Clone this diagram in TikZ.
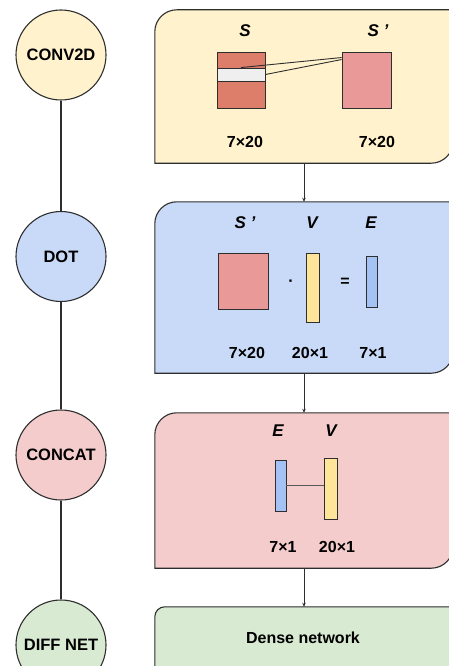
\documentclass[tikz,border=0pt]{standalone}
\usepackage{fontspec}
\setmainfont{Liberation Sans}
\usetikzlibrary{arrows.meta,calc}
\definecolor{linec}{HTML}{2E2E2E}
\definecolor{yelbg}{HTML}{FFF2CC}
\definecolor{bluebg}{HTML}{C9DAF8}
\definecolor{pinkbg}{HTML}{F4CCCC}
\definecolor{greenbg}{HTML}{D9EAD3}
\definecolor{sred}{HTML}{DD7E6B}
\definecolor{spink}{HTML}{EA9999}
\definecolor{bandc}{HTML}{EFEFEF}
\definecolor{vyel}{HTML}{FFE599}
\definecolor{eblue}{HTML}{A4C2F4}
\newcommand\panelpath[3]{%
  \draw[panelline, fill=#2] (#1.south west) -- ([yshift=-#3]#1.north west)
    .. controls ([yshift=-0.448*#3]#1.north west) and ([xshift=0.448*#3]#1.north west) .. ([xshift=#3]#1.north west)
    -- (#1.north east) -- ([yshift=#3]#1.south east)
    .. controls ([yshift=0.448*#3]#1.south east) and ([xshift=-0.448*#3]#1.south east) .. ([xshift=-#3]#1.south east)
    -- cycle;}
\begin{document}
\begin{tikzpicture}[x=1pt,y=-1pt,
  stage/.style={circle, draw=linec, line width=1.1pt, minimum size=90pt, inner sep=0pt,
    font=\fontsize{16.5}{19}\selectfont\bfseries},
  panel/.style={rectangle, inner sep=0pt, minimum width=298pt},
  panelline/.style={draw=linec, line width=1.1pt},
  mat/.style={rectangle, draw=linec, line width=0.9pt, inner sep=0pt},
  lbl/.style={font=\fontsize{17}{20}\selectfont\bfseries\itshape, inner sep=0pt},
  dim/.style={font=\fontsize{16}{19}\selectfont\bfseries, inner sep=0pt},
  link/.style={draw=linec, line width=1.1pt},
  conn/.style={draw=linec, line width=0.8pt, -{Stealth[length=4pt,width=3.5pt]}},
  thinl/.style={draw=linec, line width=0.9pt}]
\useasboundingbox (0,0) rectangle (449,666);
\clip (0,0) rectangle (449,666);

% panels
\node[panel, minimum height=153pt] (p1) at (304,86.5) {};
\node[panel, minimum height=171pt] (p2) at (304,287.5) {};
\node[panel, minimum height=155pt] (p3) at (304,490.5) {};
\node[panel, minimum height=100pt] (p4) at (304,657) {};
\panelpath{p1}{yelbg}{22pt}
\panelpath{p2}{bluebg}{22pt}
\panelpath{p3}{pinkbg}{22pt}
\panelpath{p4}{greenbg}{10pt}

\draw[conn] (p1.south) -- (p2.north);
\draw[conn] (p2.south) -- (p3.north);
\draw[conn] (p3.south) -- (p4.north);

% stage circles
\node[stage, fill=yelbg] (c1) at (61,55) {CONV2D};
\node[stage, fill=bluebg] (c2) at (61,256.5) {DOT};
\node[stage, fill=pinkbg] (c3) at (61,455) {CONCAT};
\node[stage, fill=greenbg] (c4) at (61,645) {DIFF NET};
\draw[link] (c1.south) -- (c2.north);
\draw[link] (c2.south) -- (c3.north);
\draw[link] (c3.south) -- (c4.north);

% CONV2D panel
\node[lbl] (ls) at (245,31) {S};
\node[lbl] (lsp) at (378,31) {S '};
\node[mat, fill=sred, minimum width=48pt, minimum height=56pt] (s) at (241,80) {};
\node[mat, fill=bandc, minimum width=48pt, minimum height=13pt] (band) at (241,74.5) {};
\node[mat, fill=spink, minimum width=49pt, minimum height=56pt] (sp) at (366.5,80) {};
\draw[thinl] (band.north) -- ([yshift=-6pt]sp.north west);
\draw[thinl] (band.east) -- ([yshift=-8pt]sp.north west);
\node[dim] (d1) at (245,142) {7×20};
\node[dim] (d2) at (377,142) {7×20};

% DOT panel
\node[lbl] (l2s) at (245,223) {S '};
\node[lbl] (l2v) at (312,223) {V};
\node[lbl] (l2e) at (371,223) {E};
\node[mat, fill=spink, minimum width=50pt, minimum height=56pt] (m2s) at (243,281) {};
\node[mat, fill=vyel, minimum width=13pt, minimum height=69pt] (m2v) at (312.5,287.5) {};
\node[mat, fill=eblue, minimum width=11pt, minimum height=51pt] (m2e) at (371.5,281.5) {};
\node[dim, anchor=base] (dotop) at (291,286) {·};
\node[dim] (eqop) at (345,282) {=};
\node[dim] (d3) at (247,353) {7×20};
\node[dim] (d4) at (310,353) {20×1};
\node[dim] (d5) at (373,353) {7×1};

% CONCAT panel
\node[lbl] (l3e) at (278,431) {E};
\node[lbl] (l3v) at (331,431) {V};
\node[mat, fill=eblue, minimum width=11pt, minimum height=51pt] (m3e) at (280.5,485.5) {};
\node[mat, fill=vyel, minimum width=13pt, minimum height=61pt] (m3v) at (330.5,488.5) {};
\draw[draw=linec!80, line width=0.8pt] (m3e.east) -- (m3e.east -| m3v.west);
\node[dim] (d6) at (283,547) {7×1};
\node[dim] (d7) at (337,547) {20×1};

% DIFF NET panel
\node[dim] (dn) at (303,638) {Dense network};
\end{tikzpicture}
\end{document}
